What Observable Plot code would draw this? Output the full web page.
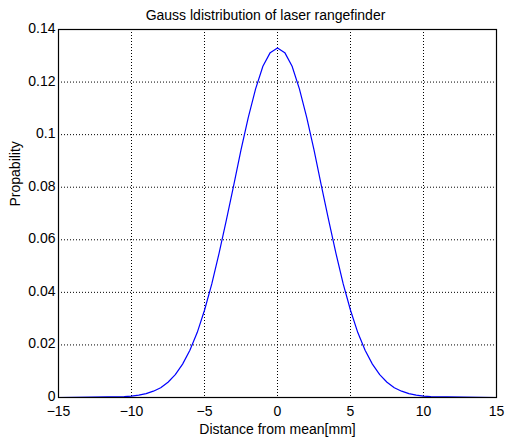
<!DOCTYPE html>
<html>
<head>
<meta charset="utf-8">
<script src="https://cdn.jsdelivr.net/npm/d3@7"></script>
<script src="https://cdn.jsdelivr.net/npm/@observablehq/plot@0.6"></script>
<style>
  html, body { margin: 0; padding: 0; background: #fff; }
  svg { font-family: "Liberation Sans", Arial, sans-serif; }
</style>
</head>
<body>
<div id="chart"></div>
<script>
// Distance from mean [mm]
const xs = [-15, -10.5, -10, -9.5, -9, -8.5, -8, -7.5, -7, -6.5, -6, -5.5, -5, -4.5, -4, -3.5, -3, -2.5, -2, -1.5, -1, -0.5,
            0, 0.5, 1, 1.5, 2, 2.5, 3, 3.5, 4, 4.5, 5, 5.5, 6, 6.5, 7, 7.5, 8, 8.5, 9, 9.5, 10, 10.5, 15];
// Probability
const ys = [0, 0.0003, 0.0005, 0.0009, 0.0015, 0.0024, 0.0037, 0.0058, 0.0087, 0.0127, 0.0180, 0.0247, 0.0332, 0.0432, 0.0549, 0.0676, 0.0807, 0.0942, 0.1066, 0.1174, 0.1260, 0.1312,
            0.1330, 0.1312, 0.1260, 0.1174, 0.1066, 0.0942, 0.0807, 0.0676, 0.0549, 0.0432, 0.0332, 0.0247, 0.0180, 0.0127, 0.0087, 0.0058, 0.0037, 0.0024, 0.0015, 0.0009, 0.0005, 0.0003, 0];
const xTicks = [-15, -10, -5, 0, 5, 10, 15];
const yTicks = [0, 0.02, 0.04, 0.06, 0.08, 0.1, 0.12, 0.14];
const yTickLabels = ["0", "0.02", "0.04", "0.06", "0.08", "0.1", "0.12", "0.14"];
const title = "Gauss ldistribution of laser rangefinder";
const xLabel = "Distance from mean[mm]";
const yLabel = "Propability";

const data = xs.map((x, i) => ({x, y: ys[i]}));

const chart = Plot.plot({
  width: 505,
  height: 441,
  marginLeft: 58,
  marginRight: 9,
  marginTop: 29,
  marginBottom: 44,
  style: {fontFamily: "Liberation Sans, Arial, sans-serif", fontSize: "14px", color: "#000", background: "#fff"},
  x: {domain: [-15, 15]},
  y: {domain: [0, 0.14]},
  marks: [
    Plot.gridX(xTicks.slice(1, -1), {stroke: "#000", strokeOpacity: 1, strokeDasharray: "1,2"}),
    Plot.gridY(yTicks.slice(1, -1), {stroke: "#000", strokeOpacity: 1, strokeDasharray: "1,2"}),
    Plot.axisX({ticks: xTicks, tickSize: 0, tickPadding: 9, fontSize: 14, label: null}),
    Plot.axisY({ticks: yTicks, tickSize: 0, tickPadding: 3, dy: -1, fontSize: 14, label: null,
                tickFormat: (d) => yTickLabels[yTicks.indexOf(d)]}),
    Plot.line(data, {x: "x", y: "y", stroke: "#0000ff", strokeWidth: 1.2}),
    Plot.frame({stroke: "#000", strokeWidth: 1.2}),
    Plot.text([title], {frameAnchor: "top", dx: -12, dy: -19, fontSize: 14, text: (d) => d}),
    Plot.text([xLabel], {frameAnchor: "bottom", dy: 36, fontSize: 14, text: (d) => d}),
    Plot.text([yLabel], {frameAnchor: "left", dx: -43, dy: -7, rotate: -90, fontSize: 14, text: (d) => d})
  ]
});
document.getElementById("chart").appendChild(chart);
</script>
</body>
</html>
